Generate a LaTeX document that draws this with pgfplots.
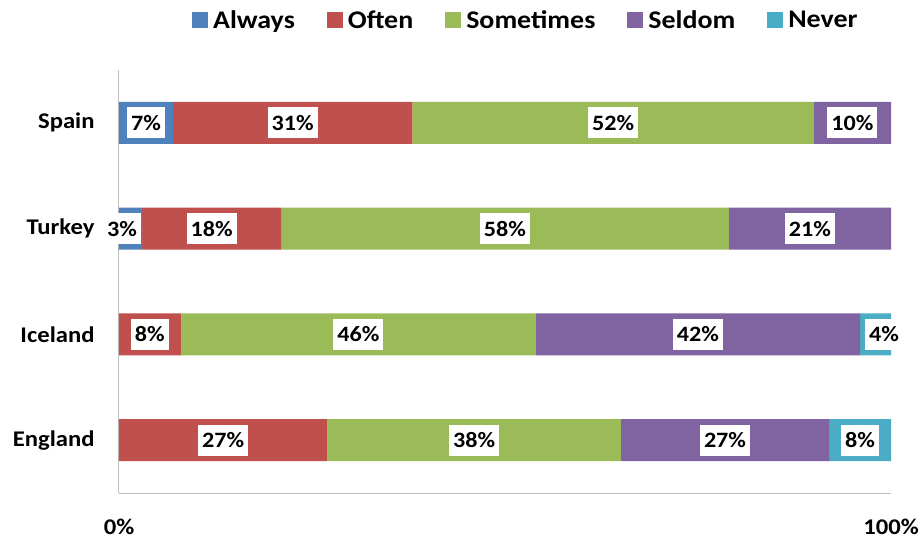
\documentclass[border=0pt]{standalone}
\usepackage{pgfplots}
\pgfplotsset{compat=1.18}
\usepackage{fontspec}
\setmainfont{Carlito}[FakeStretch=1.1]
\definecolor{cAlways}{RGB}{79,129,189}
\definecolor{cOften}{RGB}{192,80,77}
\definecolor{cSometimes}{RGB}{155,187,89}
\definecolor{cSeldom}{RGB}{128,100,162}
\definecolor{cNever}{RGB}{75,172,198}
\definecolor{axisgray}{RGB}{191,191,191}
\begin{document}
\begin{tikzpicture}
\useasboundingbox (-119bp,-50bp) rectangle (805bp,493bp);
\begin{axis}[
    at={(0,0)}, anchor=south west,
    scale only axis, width=772bp, height=423bp,
    xbar stacked, bar width=42bp,
    xmin=0, xmax=100, ymin=-0.5, ymax=3.5,
    axis x line*=bottom, axis y line*=left,
    axis line style={draw=axisgray, line width=1bp},
    xtick={0,100}, xticklabels={0\%,100\%},
    ytick={0,1,2,3}, yticklabels={England,Iceland,Turkey,Spain},
    major tick length=0pt,
    tick label style={font=\fontsize{22.5}{26}\selectfont\bfseries},
    xticklabel style={yshift=-23bp},
    yticklabel style={xshift=-21bp},
    legend style={at={(0.527,1.118)}, anchor=center, draw=none,
        legend columns=-1, font=\fontsize{25.5}{29}\selectfont\bfseries,
        /tikz/every odd column/.append style={column sep=3bp},
        /tikz/every even column/.append style={column sep=30bp}},
    legend image code/.code={\fill[#1] (0bp,-8bp) rectangle (16bp,8bp);},
]
% England, Iceland, Turkey, Spain
\addplot[fill=cAlways, draw=none] coordinates {(0,0) (0,1) (3,2) (7,3)};
\addplot[fill=cOften, draw=none] coordinates {(27,0) (8,1) (18,2) (31,3)};
\addplot[fill=cSometimes, draw=none] coordinates {(38,0) (46,1) (58,2) (52,3)};
\addplot[fill=cSeldom, draw=none] coordinates {(27,0) (42,1) (21,2) (10,3)};
\addplot[fill=cNever, draw=none] coordinates {(8,0) (4,1) (0,2) (0,3)};
\legend{Always, Often, Sometimes, Seldom, Never}
\end{axis}
% data labels
\begin{axis}[
    at={(0,0)}, anchor=south west,
    scale only axis, width=772bp, height=423bp,
    xmin=0, xmax=100, ymin=-0.5, ymax=3.5,
    hide axis, clip=false,
    nodes near coords, point meta=explicit symbolic,
    nodes near coords align=center,
    every node near coord/.style={fill=white, text=black, inner xsep=4bp,
        inner ysep=0pt, minimum height=31bp, anchor=center,
        font=\fontsize{22}{26}\selectfont\bfseries},
]
\addplot[draw=none] coordinates {
    (3.5,3) [7\%] (22.5,3) [31\%] (64,3) [52\%] (95,3) [10\%]
    (0.4,2) [3\%] (12,2) [18\%] (50,2) [58\%] (89.5,2) [21\%]
    (4,1) [8\%] (31,1) [46\%] (75,1) [42\%] (99.1,1) [4\%]
    (13.5,0) [27\%] (46,0) [38\%] (78.5,0) [27\%] (96,0) [8\%]
};
\end{axis}
\end{tikzpicture}
\end{document}
